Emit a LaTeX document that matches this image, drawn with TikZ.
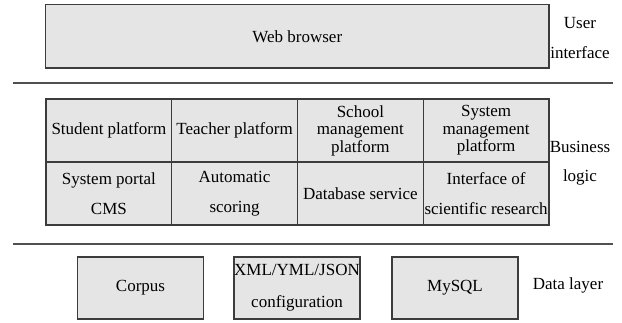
\documentclass[tikz,border=0pt]{standalone}
\usepackage{fontspec}
\setmainfont{Liberation Serif}
\definecolor{boxfill}{HTML}{E5E5E5}
\definecolor{boxline}{HTML}{3C3C3C}
\definecolor{sepline}{HTML}{505050}
\begin{document}
\begin{tikzpicture}[x=1pt,y=-1pt,
  box/.style={draw=boxline,fill=boxfill,line width=1.3pt,inner sep=0pt,outer sep=0pt,
    align=center,font=\fontsize{17}{17}\selectfont},
  cellA/.style={box,minimum width=125.75pt,minimum height=63pt,font=\fontsize{17}{17.5}\selectfont},
  cellB/.style={box,minimum width=125.75pt,minimum height=63pt,font=\fontsize{17}{29.5}\selectfont},
  datbox/.style={box,minimum width=126pt,minimum height=62pt},
  lab/.style={align=center,inner sep=0pt,font=\fontsize{17}{29.5}\selectfont},
  sep/.style={draw=sepline,line width=1.4pt}]
\useasboundingbox (0,0) rectangle (622,322);
% user interface
\node[box,minimum width=503.3pt,minimum height=63.5pt] (web) at (297.35,36.25) {Web browser};
\node[lab] (ui) at (580,38) {User\\interface};
\coordinate (l1a) at (13,83);
\coordinate (l1b) at (613,83);
\draw[sep] (l1a) -- (l1b);
% business logic
\node[cellA] (c11) at (108.9,130.5) {Student platform};
\node[cellA] (c12) at (234.6,130.5) {Teacher platform};
\node[cellA] (c13) at (360.4,130.5) {School\\management\\platform};
\node[cellA] (c14) at (486.1,130.5) {System\\management\\platform};
\node[cellB] (c21) at (108.9,193.5) {System portal\\CMS};
\node[cellB] (c22) at (234.6,193.5) {Automatic\\scoring};
\node[cellB] (c23) at (360.4,193.5) {Database service};
\node[cellB] (c24) at (486.1,193.5) {Interface of\\scientific research};
\node[lab] (bl) at (580,163) {Business\\logic};
\coordinate (l2a) at (13,244);
\coordinate (l2b) at (613,244);
\draw[sep] (l2a) -- (l2b);
% data layer
\node[datbox] (corpus) at (140.5,288) {Corpus};
\node[datbox,font=\fontsize{17}{32}\selectfont] (xml) at (297,288) {XML/YML/JSON\\configuration};
\node[datbox] (mysql) at (455,288) {MySQL};
\node[lab] (dl) at (568,285) {Data layer};
\end{tikzpicture}
\end{document}
